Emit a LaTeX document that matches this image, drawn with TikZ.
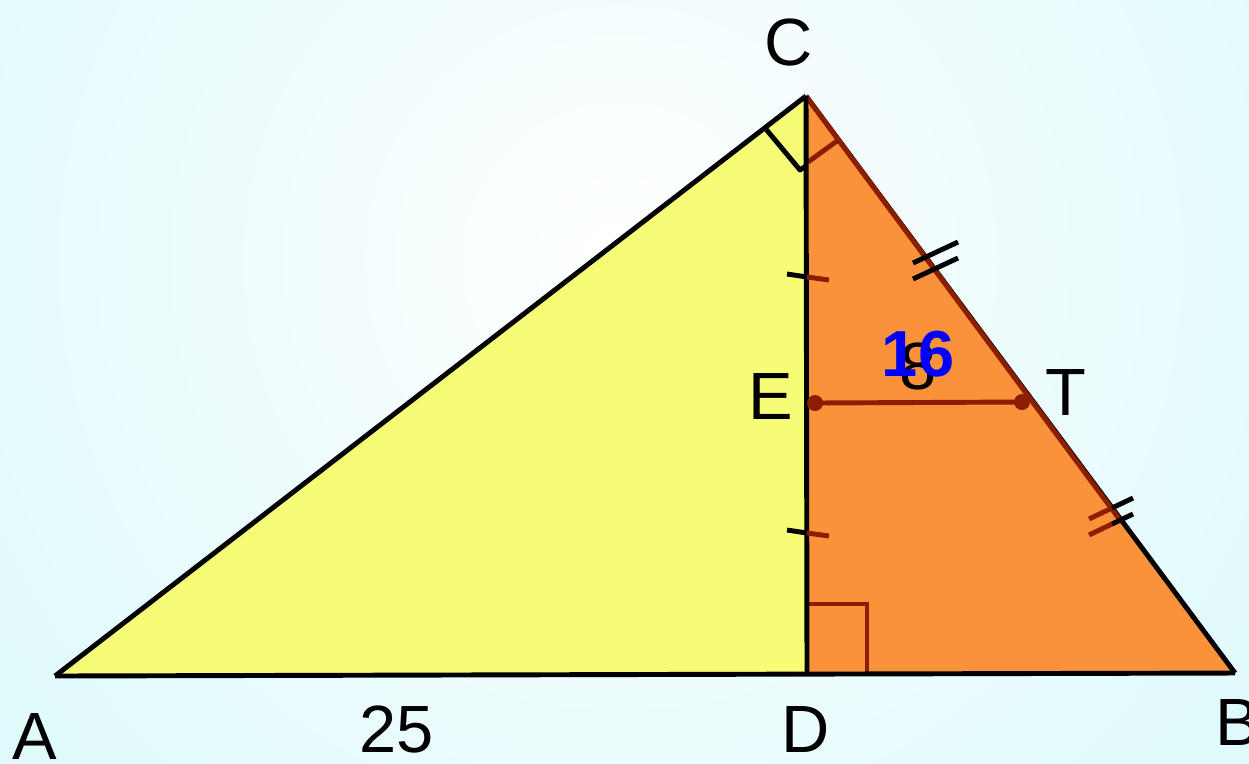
\documentclass[tikz,border=0pt]{standalone}
\usepackage{fontspec}
\setmainfont{Liberation Sans}
\definecolor{bgc}{RGB}{218,249,251}
\definecolor{yelfill}{RGB}{247,252,118}
\definecolor{orfill}{RGB}{250,146,60}
\definecolor{dred}{RGB}{140,30,0}
\definecolor{lblue}{RGB}{0,0,255}

\begin{document}
\begin{tikzpicture}[x=0.01cm,y=-0.01cm,
  lbl/.style={font=\fontsize{19}{22}\selectfont, inner sep=0pt},
  edge/.style={line width=1.4pt, black},
  redline/.style={line width=1.4pt, dred}]
% geometry: 1 unit = 1 px of a 1249 x 763 frame, y pointing down
\useasboundingbox (0,0) rectangle (1249,763);
\begin{scope}
  \clip (0,0) rectangle (1249,763);
  \shade[inner color=white, outer color=bgc] (620,260) circle (900);
\end{scope}

% ---- vertices ----
\coordinate (A) at (55,676);
\coordinate (B) at (1235,673);
\coordinate (C) at (806,96);
\coordinate (D) at (807,673);
\coordinate (E) at (815,403);
\coordinate (T) at (1022,402);

% ---- fills ----
\fill[yelfill] (A) -- (C) -- (D) -- cycle;
\fill[orfill] (C) -- (B) -- (D) -- cycle;

% ---- right angle marks ----
\draw[redline] (808,604) -- (867,604) -- (867,673);
\draw[redline] (808,162) -- (837,141);
\draw[edge, line join=round] (765,128) -- (800,170) -- (806,166);

% ---- sides ----
\draw[edge] (A) -- (C);
\draw[edge] (A) -- (B);
\draw[edge] (C) -- (B);
\draw[redline] (C) -- (1120,520);
\draw[edge] (C) -- (D);

% ---- midsegment ET ----
\draw[redline] (E) -- (T);
\fill[dred] (E) circle (8);
\fill[dred] (T) circle (8);

% ---- equal marks on CD (single) ----
\foreach \y in {274,530}{
  \draw[edge] (787,\y) -- (807,{\y+3});
  \draw[redline] (807,{\y+3}) -- (829,{\y+6});
}
% ---- equal marks on CB (double) ----
\foreach \d in {0,16}{
  \draw[edge] (913,{263+\d}) -- (958,{242+\d});
  \draw[redline] (1089,{519+\d}) -- (1112,{508+\d});
  \draw[edge] (1112,{508+\d}) -- (1133,{498+\d});
}

% ---- labels ----
\node[lbl] (lC) at (789,42) {C};
\node[lbl] (lA) at (35,736) {A};
\node[lbl] (lB) at (1238,722) {B};
\node[lbl] (lD) at (806,729) {D};
\node[lbl] (lE) at (771,397) {E};
\node[lbl] (lT) at (1066,393) {T};
\node[lbl] (l25) at (397,729) {25};
\node[lbl] (l8) at (918,366) {8};
\node[lbl, font=\fontsize{18.5}{22}\selectfont\bfseries, text=lblue] (l16) at (918,354) {16};
\end{tikzpicture}
\end{document}
